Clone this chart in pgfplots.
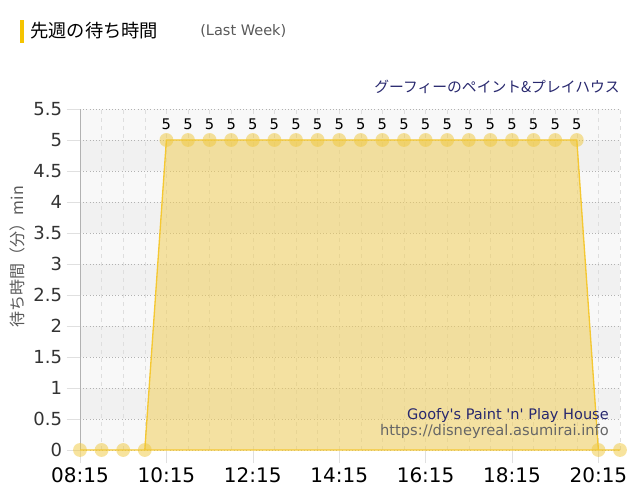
\documentclass[border=0pt]{standalone}
\usepackage{pgfplots}
\pgfplotsset{compat=1.18}
\usepackage{pgfplotstable}
\usepackage{fontspec}
\setmainfont{DejaVu Sans}
\newfontfamily\jp{Noto Sans CJK JP}

\definecolor{linec}{RGB}{245,200,50}
\definecolor{fillc}{RGB}{242,207,90}
\definecolor{markc}{RGB}{240,200,60}
\definecolor{barc}{RGB}{245,196,0}
\definecolor{navy}{RGB}{40,40,110}
\definecolor{bandlight}{RGB}{248,248,248}
\definecolor{banddark}{RGB}{241,241,241}

% waiting time (min) every 30 min, t in hours
\pgfplotstableread{
t     w  lab
8.25  0  {}
8.75  0  {}
9.25  0  {}
9.75  0  {}
10.25 5  5
10.75 5  5
11.25 5  5
11.75 5  5
12.25 5  5
12.75 5  5
13.25 5  5
13.75 5  5
14.25 5  5
14.75 5  5
15.25 5  5
15.75 5  5
16.25 5  5
16.75 5  5
17.25 5  5
17.75 5  5
18.25 5  5
18.75 5  5
19.25 5  5
19.75 5  5
20.25 0  {}
20.75 0  {}
}\waits

\begin{document}
\begin{tikzpicture}
\path (0,0) rectangle (480pt,375pt);

% header
\fill[barc] (15pt,342.75pt) rectangle (18pt,360pt);
\node[anchor=west, inner sep=0pt] at (22.5pt,351.75pt) {\jp\fontsize{13.7}{16}\selectfont 先週の待ち時間};
\node[anchor=west, inner sep=0pt, text=black!65] at (150pt,351.75pt) {\fontsize{10.9}{13}\selectfont (Last Week)};
\node[anchor=east, inner sep=0pt, text=navy] at (465pt,309.75pt) {\jp\fontsize{11.1}{13}\selectfont グーフィーのペイント\&プレイハウス};

% y label
\node[rotate=90, inner sep=0pt, text=black!65] at (13pt,182.5pt) {\jp\fontsize{12}{14}\selectfont 待ち時間（分）min};

\begin{axis}[
    set layers,
    at={(60pt,37.5pt)}, anchor=south west,
    scale only axis,
    width=405pt, height=255.75pt,
    xmin=8.25, xmax=20.75,
    ymin=0, ymax=5.5,
    xtick={8.25,10.25,12.25,14.25,16.25,18.25,20.25},
    xticklabels={08:15,10:15,12:15,14:15,16:15,18:15,20:15},
    minor xtick={8.25,8.75,...,20.75},
    ytick={0,0.5,...,5.5},
    axis x line*=bottom, axis y line*=left,
    x axis line style={draw=none},
    y axis line style={draw=black!30},
    tick align=outside,
    major tick length=10pt,
    minor tick length=0pt,
    major tick style={draw=black!12},
    xminorgrids=true,
    ymajorgrids=true,
    minor x grid style={dashed, draw=black!13},
    major y grid style={dotted, draw=black!30},
    /pgf/number format/assume math mode=true,
    xticklabel style={font=\fontsize{15}{18}\selectfont, text=black},
    yticklabel style={font=\fontsize{13.5}{16}\selectfont, text=black!80},
    clip=false,
]
\begin{pgfonlayer}{axis background}
  \fill[bandlight] (axis cs:8.25,0) rectangle (axis cs:20.75,5.5);
  \fill[banddark] (axis cs:8.25,0.5) rectangle (axis cs:20.75,1);
  \fill[banddark] (axis cs:8.25,1.5) rectangle (axis cs:20.75,2);
  \fill[banddark] (axis cs:8.25,2.5) rectangle (axis cs:20.75,3);
  \fill[banddark] (axis cs:8.25,3.5) rectangle (axis cs:20.75,4);
  \fill[banddark] (axis cs:8.25,4.5) rectangle (axis cs:20.75,5);
\end{pgfonlayer}

\addplot[draw=linec, line width=1pt, fill=fillc, fill opacity=0.55] table[x=t, y=w] {\waits} \closedcycle;

\addplot[only marks, color=markc, mark=*, mark size=5.2pt,
    mark options={draw opacity=0, fill=markc, fill opacity=0.5},
    point meta=explicit symbolic,
    nodes near coords,
    nodes near coords style={font=\fontsize{11}{13}\selectfont, text=black, text opacity=1, anchor=south, yshift=4.5pt}]
    table[x=t, y=w, meta=lab] {\waits};
\end{axis}

% source note
\node[anchor=east, inner sep=0pt, text=navy] at (456.75pt,63.75pt) {\fontsize{10.9}{13}\selectfont Goofy\textquotesingle s Paint \textquotesingle n\textquotesingle{} Play House};
\node[anchor=east, inner sep=0pt, text=black!60] at (456.75pt,51.75pt) {\fontsize{11}{13}\selectfont https://disneyreal.asumirai.info};
\end{tikzpicture}
\end{document}
